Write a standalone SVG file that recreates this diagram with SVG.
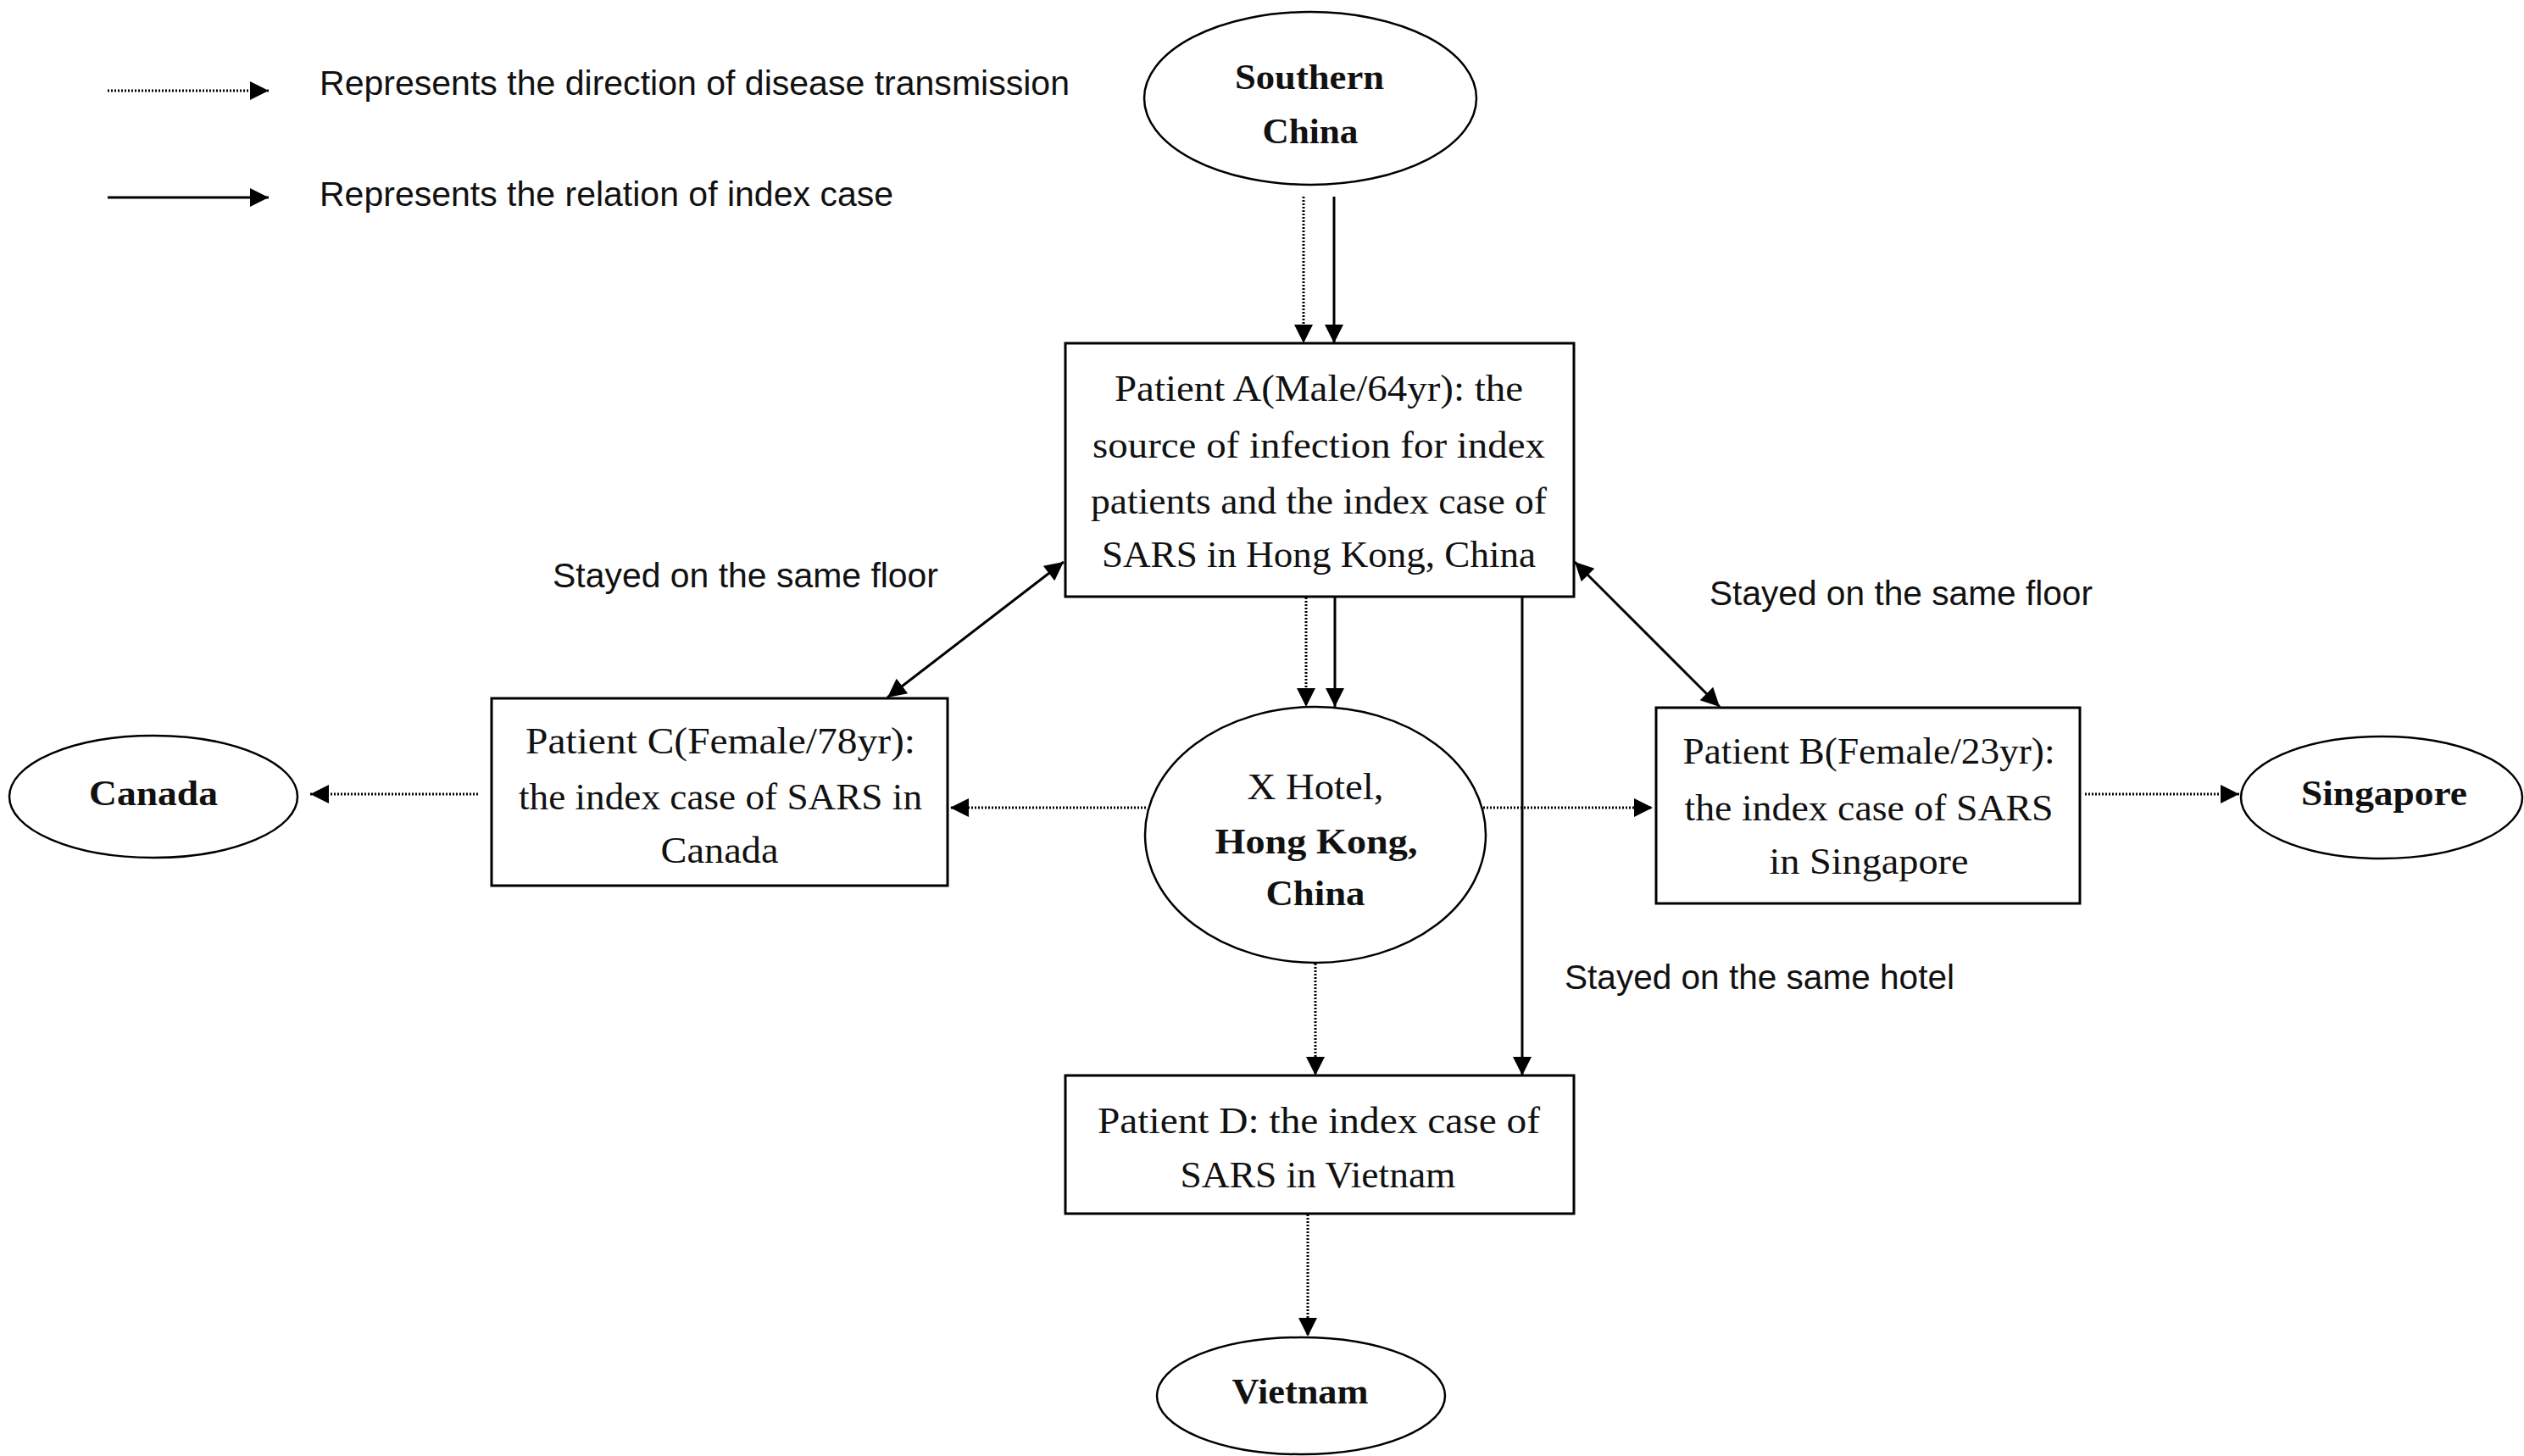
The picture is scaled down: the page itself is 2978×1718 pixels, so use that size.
<svg xmlns="http://www.w3.org/2000/svg" width="2978" height="1718" viewBox="0 0 2978 1718">
<defs>
<marker id="ah" viewBox="0 0 10 10" refX="10" refY="5" markerWidth="26" markerHeight="22" markerUnits="userSpaceOnUse" orient="auto-start-reverse"><path d="M0,0 L10,5 L0,10 z" fill="#000"/></marker>
<style>
.box{fill:#fff;stroke:#000;stroke-width:3}
.ell{fill:#fff;stroke:#000;stroke-width:2.5}
.t{font-family:"Liberation Serif","Times New Roman",serif;font-size:44px;fill:#111;text-anchor:middle}
.b{font-family:"Liberation Serif","Times New Roman",serif;font-size:42px;font-weight:bold;fill:#111;text-anchor:middle}
.s{font-family:"Liberation Sans",Arial,sans-serif;font-size:41px;fill:#111}
.sol{stroke:#000;stroke-width:3;fill:none;marker-end:url(#ah)}
.dot{stroke:#000;stroke-width:3;fill:none;stroke-dasharray:2 2;marker-end:url(#ah)}
.dbl{stroke:#000;stroke-width:3;fill:none;marker-end:url(#ah);marker-start:url(#ah)}
</style>
</defs>
<rect width="2978" height="1718" fill="#fff"/>

<g id="legend">
<line class="dot" x1="127" y1="107" x2="317" y2="107"/>
<line class="sol" x1="127" y1="233" x2="317" y2="233"/>
<text class="s" x="377" y="112" textLength="885" lengthAdjust="spacingAndGlyphs">Represents the direction of disease transmission</text>
<text class="s" x="377" y="243" textLength="677" lengthAdjust="spacingAndGlyphs">Represents the relation of index case</text>
</g>

<g id="connectors">
<line class="dot" x1="1538" y1="232" x2="1538" y2="405"/>
<line class="sol" x1="1574" y1="232" x2="1574" y2="405"/>
<line class="dot" x1="1541" y1="705" x2="1541" y2="834"/>
<line class="sol" x1="1575" y1="705" x2="1575" y2="834"/>
<line class="sol" x1="1796" y1="705" x2="1796" y2="1269"/>
<line class="dot" x1="1552" y1="1137" x2="1552" y2="1269"/>
<line class="dot" x1="1543" y1="1433" x2="1543" y2="1577"/>
<line class="dot" x1="1352" y1="953" x2="1121" y2="953"/>
<line class="dot" x1="564" y1="937" x2="366" y2="937"/>
<line class="dot" x1="1750" y1="953" x2="1950" y2="953"/>
<line class="dot" x1="2460" y1="937" x2="2642" y2="937"/>
<line class="dbl" x1="1255" y1="663" x2="1047" y2="823"/>
<line class="dbl" x1="1858" y1="663" x2="2029" y2="834"/>
<text class="s" x="652" y="693" textLength="455" lengthAdjust="spacingAndGlyphs">Stayed on the same floor</text>
<text class="s" x="2017" y="714" textLength="452" lengthAdjust="spacingAndGlyphs">Stayed on the same floor</text>
<text class="s" x="1846" y="1167" textLength="460" lengthAdjust="spacingAndGlyphs">Stayed on the same hotel</text>
</g>

<g id="southern-china">
<ellipse class="ell" cx="1546" cy="116" rx="196" ry="102"/>
<text class="b" x="1545" y="105" textLength="176" lengthAdjust="spacingAndGlyphs">Southern</text>
<text class="b" x="1546" y="169" textLength="113" lengthAdjust="spacingAndGlyphs">China</text>
</g>

<g id="patient-a">
<rect class="box" x="1257" y="405" width="600" height="299"/>
<text class="t" x="1556" y="473" textLength="482" lengthAdjust="spacingAndGlyphs">Patient A(Male/64yr): the</text>
<text class="t" x="1556" y="540" textLength="534" lengthAdjust="spacingAndGlyphs">source of infection for index</text>
<text class="t" x="1556" y="606" textLength="538" lengthAdjust="spacingAndGlyphs">patients and the index case of</text>
<text class="t" x="1556" y="669" textLength="512" lengthAdjust="spacingAndGlyphs">SARS in Hong Kong, China</text>
</g>

<g id="patient-c">
<rect class="box" x="580" y="824" width="538" height="221"/>
<text class="t" x="850" y="889" textLength="460" lengthAdjust="spacingAndGlyphs">Patient C(Female/78yr):</text>
<text class="t" x="850" y="955" textLength="476" lengthAdjust="spacingAndGlyphs">the index case of SARS in</text>
<text class="t" x="849" y="1018" textLength="139" lengthAdjust="spacingAndGlyphs">Canada</text>
</g>

<g id="canada">
<ellipse class="ell" cx="181" cy="940" rx="170" ry="72"/>
<text class="b" x="181" y="950" textLength="152" lengthAdjust="spacingAndGlyphs">Canada</text>
</g>

<g id="x-hotel">
<ellipse class="ell" cx="1552" cy="985" rx="201" ry="151"/>
<text class="t" x="1552" y="943" textLength="161" lengthAdjust="spacingAndGlyphs">X Hotel,</text>
<text class="b" x="1553" y="1007" textLength="239" lengthAdjust="spacingAndGlyphs">Hong Kong,</text>
<text class="b" x="1552" y="1068" textLength="117" lengthAdjust="spacingAndGlyphs">China</text>
</g>

<g id="patient-b">
<rect class="box" x="1954" y="835" width="500" height="231"/>
<text class="t" x="2205" y="901" textLength="439" lengthAdjust="spacingAndGlyphs">Patient B(Female/23yr):</text>
<text class="t" x="2205" y="968" textLength="435" lengthAdjust="spacingAndGlyphs">the index case of SARS</text>
<text class="t" x="2205" y="1031" textLength="235" lengthAdjust="spacingAndGlyphs">in Singapore</text>
</g>

<g id="singapore">
<ellipse class="ell" cx="2810" cy="941" rx="166" ry="72"/>
<text class="b" x="2813" y="950" textLength="196" lengthAdjust="spacingAndGlyphs">Singapore</text>
</g>

<g id="patient-d">
<rect class="box" x="1257" y="1269" width="600" height="163"/>
<text class="t" x="1556" y="1337" textLength="522" lengthAdjust="spacingAndGlyphs">Patient D: the index case of</text>
<text class="t" x="1555" y="1401" textLength="325" lengthAdjust="spacingAndGlyphs">SARS in Vietnam</text>
</g>

<g id="vietnam">
<ellipse class="ell" cx="1535" cy="1647" rx="170" ry="69"/>
<text class="b" x="1534" y="1656" textLength="161" lengthAdjust="spacingAndGlyphs">Vietnam</text>
</g>
</svg>
